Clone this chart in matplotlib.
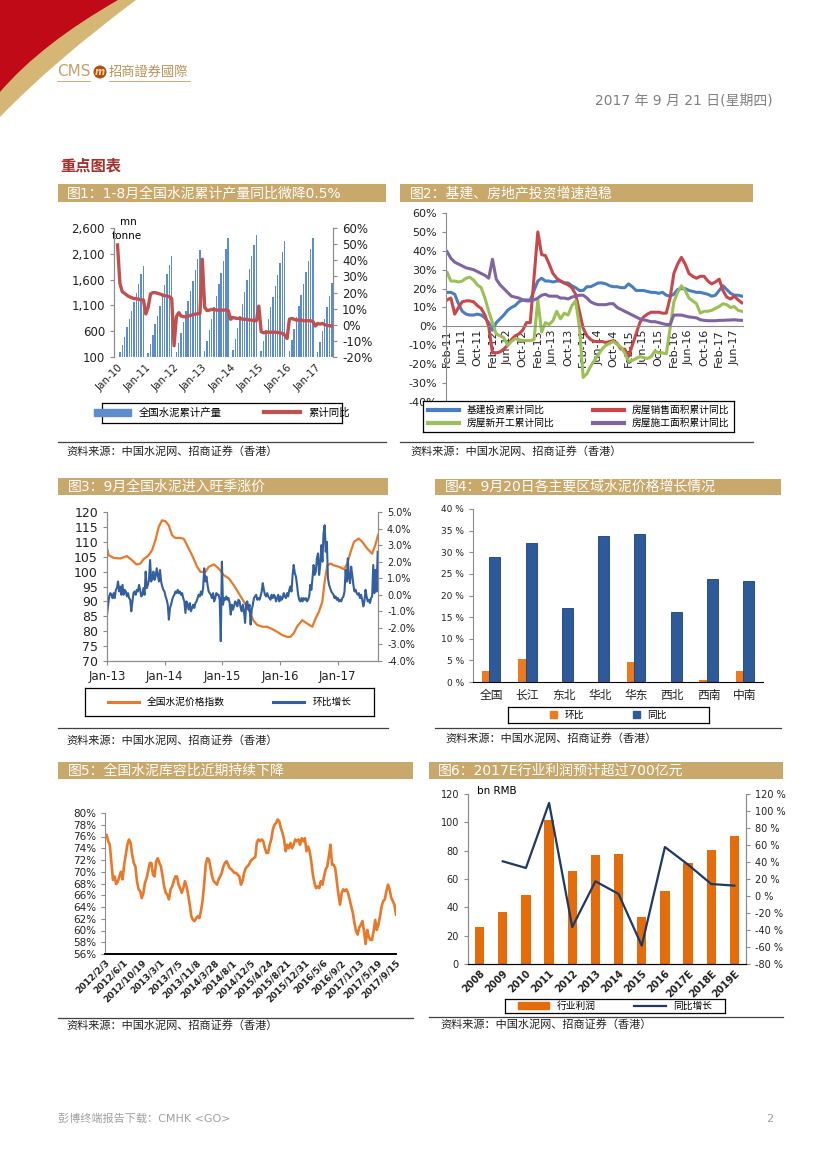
import numpy as np
import matplotlib
matplotlib.use('Agg')
import matplotlib.pyplot as plt
from matplotlib.patches import Rectangle, PathPatch, Circle, Patch
from matplotlib.path import Path
from matplotlib.lines import Line2D

plt.rcParams['font.family'] = ['DejaVu Sans', 'Noto Sans CJK SC']
plt.rcParams['axes.unicode_minus'] = False

# ---------------- data ----------------
# Fig 1: cumulative cement output (mn t) and cumulative yoy (%), Jan-10 .. Aug-17
prod = [0, 200, 335, 495, 675, 835, 1000, 1170, 1335, 1515, 1700, 1865,
        0, 185, 350, 525, 730, 895, 1090, 1280, 1505, 1700, 1880, 2060,
        0, 200, 380, 570, 775, 985, 1190, 1380, 1570, 1780, 1990, 2180,
        0, 220, 405, 620, 840, 1060, 1290, 1510, 1720, 1960, 2190, 2410,
        0, 230, 440, 660, 900, 1130, 1360, 1590, 1810, 2050, 2270, 2470,
        0, 210, 410, 620, 840, 1060, 1270, 1480, 1690, 1920, 2140, 2350,
        0, 220, 420, 640, 870, 1090, 1310, 1520, 1740, 1970, 2190, 2400,
        0, 200, 400, 600, 830, 1060, 1290, 1530]
prod_yoy = [49.5, 25.7, 20.5, 19.5, 18.3, 17.4, 16.8, 16.2, 16.2, 15.8, 15.4, 15.4,
            6.7, 10.8, 19.1, 19.9, 19.9, 19.5, 19.1, 18.5, 18.0, 17.8, 17.4, 16.2,
            -13.0, 5.0, 7.5, 5.4, 5.0, 5.0, 5.4, 5.8, 6.2, 6.6, 6.8, 7.0,
            40.6, 10.8, 8.8, 9.1, 9.5, 9.5, 9.1, 9.1, 9.1, 9.1, 9.1, 8.8,
            3.4, 4.5, 4.1, 3.9, 3.9, 3.5, 3.4, 3.4, 2.9, 2.9, 2.5, 2.5,
            11.6, -4.3, -5.0, -4.6, -4.6, -4.6, -4.6, -4.6, -4.8, -5.0, -5.3, -6.4,
            -8.5, 3.5, 3.9, 3.4, 2.9, 2.9, 2.9, 2.5, 2.5, 2.5, 2.5, 1.9,
            -0.8, 0.8, 0.4, 0.8, 0.0, -0.4, -0.6, -0.8]
years1 = ['Jan-10', 'Jan-11', 'Jan-12', 'Jan-13', 'Jan-14', 'Jan-15', 'Jan-16', 'Jan-17']

# Fig 2: investment growth, monthly Feb-11 .. Aug-17 (%)
infra = [18, 18, 17, 12, 8, 6.5, 6, 6, 6.5, 6, 4.5,
         2, -2, 2, 4, 6, 8.5, 10, 11, 13, 14, 14, 14,
         19, 24, 25.5, 24, 24, 23.5, 24, 24, 23, 23, 21.5, 20.5,
         19, 19, 21, 21, 22, 23, 23, 22.5, 21.5, 21, 21, 20.5,
         20.5, 22.5, 21, 19, 19, 19, 18.5, 18, 18, 17.5, 18, 16.5,
         16, 17, 19.5, 20, 20, 19, 18.5, 18, 18, 17.5, 17, 16,
         16.5, 19, 21.5, 19.5, 17.5, 16.5, 16.5, 16]
sales = [14, 15, 6.5, 10, 13, 13.5, 13.5, 13, 11, 9.5, 6,
         0, -14, -14, -13.5, -12, -10, -7, -5, -4, -2, 2, 2,
         26, 50, 38, 37.5, 33, 28, 25.5, 24, 23, 22, 20.5, 17,
         8, -1, -5, -7, -8, -8, -8, -8.5, -8, -7.5, -9, -12,
         -12, -16, -10, -4, 2, 5, 6.5, 7.5, 7.5, 7.5, 7, 7,
         15, 28, 33, 36.5, 33, 28, 26.5, 25.5, 26.5, 26.5, 24, 22.5,
         23.5, 25, 19, 15.5, 14.5, 16, 14, 12.5]
starts = [28.5, 24, 24, 23.5, 24, 25.5, 26, 24.5, 22, 20.5, 15,
          8, 2, -4, -5, -6, -10, -8, -6.5, -7, -7.5, -7.5, -7.5,
          -7, 14, -3, 2, 1, 3, 8, 4, 7, 6, 11, 13.5,
          0, -27, -25, -21, -18, -15, -12, -10, -9, -8, -9.5, -11,
          -14, -18.5, -18, -17, -16, -16.5, -17, -16, -13, -14, -14, -14.5,
          -1, 13, 18, 21.5, 19, 15, 13.5, 12, 7, 8, 8, 8.5,
          9.5, 10.5, 12, 11.5, 10, 10.5, 8.5, 8]
underway = [39.5, 36, 34, 33, 32, 31, 30.5, 30, 29, 28, 27,
            25.5, 35.5, 25, 22, 20, 18, 16, 15.5, 15, 14, 13.5, 13.5,
            14, 15, 16.5, 17, 16, 16, 16, 15, 15, 14.5, 15.5, 16,
            16.5, 16.5, 15, 13, 12, 11.5, 11.5, 11.5, 12, 12, 10, 9,
            8, 7, 6, 5, 4, 3.5, 3, 2.5, 2.5, 2, 1.5, 1,
            1, 6, 6, 6, 5.5, 5, 4.8, 4.5, 3.5, 3.2, 3, 3,
            3, 3.2, 3.2, 3.3, 3.4, 3.5, 3.3, 3.2]
months2 = ['Feb-11', 'Jun-11', 'Oct-11', 'Feb-12', 'Jun-12', 'Oct-12', 'Feb-13',
           'Jun-13', 'Oct-13', 'Feb-14', 'Jun-14', 'Oct-14', 'Feb-15', 'Jun-15',
           'Oct-15', 'Feb-16', 'Jun-16', 'Oct-16', 'Feb-17', 'Jun-17']

# Fig 3: price index (weeks since Jan-13) and weekly change (%)
idx_week = [0, 1.5, 6, 12, 18, 22.7, 26.6, 30.2, 33.2, 37.8, 40.8, 43.8, 46.8, 49.8,
            52.9, 55.9, 58.9, 61.9, 66.5, 69.5, 72.5, 77, 81.6, 84.6, 89.1, 92.1,
            96.7, 101.2, 105.7, 110.3, 114.8, 119.3, 123.9, 128.4, 132.3, 136,
            140.5, 145, 149.5, 154, 158.6, 163, 166, 169, 172, 176.7, 181, 185.8,
            188.8, 191.8, 194.9, 197, 199.4, 202.4, 205.4, 210, 214.5, 217.5,
            220.5, 223.6, 228, 231, 235.6, 240, 243, 245.3]
idx_val = [108, 105.5, 104.6, 104.4, 105.2, 103.8, 102.4, 102.7, 104.2, 105.5, 107.2,
           110.5, 115, 117.2, 116.9, 115.5, 112.2, 111.3, 111.3, 111, 108.8, 105.5,
           101.6, 99.9, 99.9, 101.6, 102.4, 101, 98.8, 97.7, 95.4, 92.7, 89.9, 87.1,
           83.7, 82.1, 81.5, 81.5, 80.7, 79.8, 78.7, 78.1, 78.1, 79.3, 81.5, 83.7,
           82.6, 81.5, 84.3, 86.5, 89.9, 96.6, 102.1, 102.7, 102.1, 101.6, 100.8,
           102.7, 106.6, 110, 111.1, 110, 107.7, 106, 109.1, 112.2]
wow = [-1.2, -0.6, -0.1, 0.1, 0.0, -0.2, 0.1, -0.2, 0.3, 0.4, 0.8, 0.2, 0.5, 0.0,
       0.6, 0.0, 0.3, 0.2, -0.1, 0.1, -0.2, -0.3, -1.0, -0.4, 0.1, 0.2, 0.0, 0.3,
       0.2, 0.6, 0.3, -0.1, 0.0, 0.4, 0.0, 1.4, 0.4, 0.6, 0.9, 2.1, 0.8, 1.0,
       1.4, 0.9, 1.1, 1.6, 1.2, 0.8, 1.5, 0.8, 0.5, 0.3,
       0.2, -0.1, -0.3, -0.6, -1.5, -0.8, -0.6, -0.3, -0.1, 0.0, 0.2, 0.1, 0.3, 0.1,
       0.2, 0.0, 0.1, -0.2, -0.4, -1.1, -0.4, -0.6, -0.9, -0.5, -1.0, -0.8, -0.6, -0.8,
       -0.5, -0.4, -0.2, 0.0, -0.1, 0.2, 0.0, 0.4, 1.6, 0.8, 1.1, 0.6, 0.2, 0.1,
       0.0, -0.2, 0.1, -0.4, -0.2, 0.1, 0.0, 0.0, -0.3, -2.8,
       2.0, -0.6, -0.2, -0.3, -0.1, -0.3, -0.2, -0.5, -1.2, -0.6, -0.9, -0.7, -0.4, -0.5,
       -0.7, -0.3, -0.4, -0.8, -1.0, -0.6, -1.0, -1.7, -0.5, -0.4, -0.9, -0.6, -1.8, -0.9,
       -0.6, -0.2, -0.1, 0.0, -0.3, -0.2, -0.3, -0.1, 0.2, 0.7, 0.3, 0.0, -0.1, 0.1,
       -0.1, -0.2, -0.3, 0.0, -0.2, 0.0, -0.1, -0.4, -0.2, 0.0,
       -0.4, -0.1, -0.3, -0.2, 0.1, -0.1, -0.2, 0.1, -0.1, 0.3, 0.5, 0.2, 1.2, 1.8,
       1.3, 1.1, 0.6, 0.0, -0.3, -0.4, -0.2, -0.4, -0.2, -0.3, -0.2, -0.4, -0.3, -0.1,
       0.6, 0.3, 1.0, 1.8, 1.2, 1.4, 2.2, 2.5, 1.2, 1.8, 3.0, 2.0, 3.7, 4.2,
       2.6, 3.2, 1.0, 0.6, 0.4, 0.2, 0.1, 0.0, -0.2, -0.1,
       -0.3, -0.2, -0.4, -0.3, -0.4, -0.2, -0.1, 0.2, 1.5, 0.8, 2.2, 1.0, 0.7, 1.7,
       1.2, 0.6, 0.2, 0.3, 0.1, 0.0, 0.1, -0.2, 0.0, -0.3, -0.7, -0.4, 0.3, -0.1,
       -0.4, -0.3, -0.5, -0.2, -0.1, 1.8, 0.1, 1.5, 0.2, 2.6]
jan_weeks3 = [0, 52.2, 104.3, 156.5, 208.7]
years3 = ['Jan-13', 'Jan-14', 'Jan-15', 'Jan-16', 'Jan-17']

# Fig 4: regional price growth (%)
regions = ['全国', '长江', '东北', '华北', '华东', '西北', '西南', '中南']
mom4 = [2.6, 5.3, 0, 0, 4.6, 0, 0.5, 2.6]
yoy4 = [28.9, 32.1, 17.0, 33.7, 34.2, 16.2, 23.9, 23.4]

# Fig 5: inventory ratio (%)
stock = [76.0, 76.3, 75.2, 74.6, 71.5, 68.6, 69.2, 67.9, 68.3, 69.2, 70.0, 68.7, 71.2,
         72.9, 74.6, 75.5, 74.9, 72.9, 71.5, 70.9, 68.4, 67.0, 66.7, 65.5, 66.4, 68.1,
         68.9, 70.1, 71.5, 71.5, 69.5, 69.2, 71.8, 72.3, 71.5, 70.9, 69.2, 67.5, 66.4,
         66.1, 65.3, 67.0, 67.5, 68.4, 69.2, 69.2, 67.8, 67.2, 66.4, 67.2, 68.4, 67.5,
         66.1, 64.4, 62.4, 61.8, 61.6, 62.1, 62.4, 62.1, 63.3, 65.0, 67.8, 71.2, 72.3,
         72.1, 70.6, 69.2, 68.4, 68.1, 67.8, 68.7, 69.2, 69.8, 70.9, 71.5, 71.8, 71.2,
         70.6, 70.4, 70.1, 69.8, 69.8, 69.5, 69.2, 67.8, 68.4, 69.8, 70.6, 70.9, 71.2,
         71.8, 72.1, 72.3, 72.5, 75.0, 75.5, 75.2, 75.5, 75.2, 74.0, 73.2, 73.2, 74.6,
         75.5, 77.2, 78.0, 78.3, 78.9, 78.6, 77.4, 76.6, 75.5, 73.5, 74.6, 74.0, 74.9,
         74.0, 74.6, 75.5, 75.2, 75.5, 74.6, 75.7, 75.2, 75.7, 73.5, 74.3, 73.5, 71.8,
         69.5, 68.1, 67.2, 67.5, 67.2, 68.4, 67.8, 69.2, 70.4, 70.9, 72.6, 74.6, 71.2,
         71.2, 70.6, 68.4, 66.1, 64.4, 66.4, 67.0, 66.7, 67.0, 66.4, 65.3, 64.1, 63.0,
         61.3, 59.9, 59.3, 60.5, 61.0, 61.6, 59.9, 57.7, 60.1, 58.9, 58.4, 58.4, 59.9,
         61.8, 60.1, 61.0, 62.4, 64.1, 65.0, 65.3, 66.7, 67.8, 67.0, 65.6, 65.0, 64.4,
         62.7]
dates5 = ['2012/2/3', '2012/6/1', '2012/10/19', '2013/3/1', '2013/7/5', '2013/11/8',
          '2014/3/28', '2014/8/1', '2014/12/5', '2015/4/24', '2015/8/21', '2015/12/31',
          '2016/5/6', '2016/9/2', '2017/1/13', '2017/5/19', '2017/9/15']

# Fig 6: industry profit (bn RMB) and yoy (%)
years6 = ['2008', '2009', '2010', '2011', '2012', '2013', '2014', '2015', '2016',
          '2017E', '2018E', '2019E']
profit = [26.1, 36.7, 48.7, 101.9, 65.9, 76.7, 77.9, 33.2, 51.8, 71.1, 80.7, 90.6]
profit_yoy = [np.nan, 40.8, 33, 109.4, -36.5, 17.3, 2.4, -58.4, 57.6, 36.9, 14.1, 12.2]

# ---------------- page ----------------
W, H = 827, 1169
GOLD = '#C8A86B'
GRAY = '#8C8C8C'
fig = plt.figure(figsize=(W / 100, H / 100), dpi=100)


def px_axes(x0, y0, x1, y1):
    return fig.add_axes([x0 / W, 1 - y1 / H, (x1 - x0) / W, (y1 - y0) / H])


bg = px_axes(0, 0, W, H)
bg.set_xlim(0, W)
bg.set_ylim(H, 0)
bg.axis('off')

# corner swoosh
cv = [Path.MOVETO, Path.LINETO, Path.CURVE3, Path.CURVE3, Path.CLOSEPOLY]
bg.add_patch(PathPatch(Path([(0, 0), (136, 0), (55, 60), (0, 117), (0, 0)], cv),
                       color='#D6B675', lw=0))
bg.add_patch(PathPatch(Path([(0, 0), (118, 0), (41, 44), (0, 92), (0, 0)], cv),
                       color='#C00A18', lw=0))

# logo
bg.text(57, 72, 'CMS', color='#C4A06A', fontsize=11, va='center', ha='left')
bg.plot([57, 90], [81, 81], color='#C4A06A', lw=0.6)
bg.add_patch(Circle((100, 72), 6.5, color='#B04E14', lw=0))
bg.text(100, 72, 'm', color='#F3D9A0', fontsize=7, fontstyle='italic',
        fontweight='bold', ha='center', va='center')
bg.text(109, 72, '招商證券國際', color='#B8935A', fontsize=9.5, va='center', ha='left')
bg.plot([109, 190], [81, 81], color='#C4A06A', lw=0.6)

bg.text(773, 100, '2017 年 9 月 21 日(星期四)', color='#808080', fontsize=10,
        ha='right', va='center')
bg.text(60, 166, '重点图表', color='#A3302B', fontsize=11, fontweight='bold',
        va='center')

bg.text(58, 1119, '彭博终端报告下载：CMHK <GO>', color='#A0A0A0', fontsize=8,
        va='center')
bg.text(773, 1119, '2', color='#A0A0A0', fontsize=8, va='center', ha='right')


def title_bar(x0, x1, y0, y1, text, tx):
    bg.add_patch(Rectangle((x0, y0), x1 - x0, y1 - y0, color=GOLD, lw=0))
    bg.text(tx, (y0 + y1) / 2, text, color='white', fontsize=10, va='center')


def source(x0, x1, yl, tx, ty):
    bg.plot([x0, x1], [yl, yl], color='#404040', lw=0.9)
    bg.text(tx, ty, '资料来源：中国水泥网、招商证券（香港）', fontsize=8,
            color='#222222', va='center')


def legend_box(rect, handles, labels, ncol, fs=7.5, **kw):
    lax = px_axes(*rect)
    lax.set_xticks([])
    lax.set_yticks([])
    lax.set_facecolor('white')
    for s in lax.spines.values():
        s.set_color('black')
        s.set_linewidth(0.9)
    lax.legend(handles, labels, loc='center', ncol=ncol, frameon=False,
               fontsize=fs, **kw)


def style(ax, sides=('left',), color=GRAY):
    for k, s in ax.spines.items():
        s.set_visible(k in sides)
        s.set_color(color)
    ax.tick_params(colors='#222222', which='both', length=3)
    ax.tick_params(axis='both', color=color)
    ax.set_facecolor('none')


title_bar(58, 386, 184, 202, '图1：1-8月全国水泥累计产量同比微降0.5%', 67)
title_bar(400, 753, 184, 202, '图2：基建、房地产投资增速趋稳', 410)
title_bar(58, 388, 478, 495, '图3：9月全国水泥进入旺季涨价', 68)
title_bar(435, 781, 479, 495, '图4：9月20日各主要区域水泥价格增长情况', 445)
title_bar(58, 413, 762, 779, '图5：全国水泥库容比近期持续下降', 68)
title_bar(429, 783, 762, 779, '图6：2017E行业利润预计超过700亿元', 438)

source(58, 386, 442, 66, 451)
source(400, 753, 442, 410, 451)
source(58, 388, 728, 66, 740)
source(435, 781, 728, 445, 738)
source(58, 413, 1018, 66, 1025)
source(429, 783, 1017, 440, 1024)

# ---------------- Fig 1 ----------------
ax1 = px_axes(114, 228, 333, 357)
m1 = np.arange(len(prod))
ax1.bar(m1, prod, width=0.62, color='#5B8DD0', lw=0)
ax1.set_ylim(100, 2600)
ax1.set_xlim(-1.5, 91.5)
ax1.set_yticks([100, 600, 1100, 1600, 2100, 2600])
ax1.set_yticklabels([f'{v:,}' for v in [100, 600, 1100, 1600, 2100, 2600]], fontsize=8.5)
ax1.set_xticks(np.arange(0, 92, 12))
ax1.set_xticklabels(years1, rotation=45, ha='right', rotation_mode='anchor', fontsize=7.5)
style(ax1, ('left', 'right'))
ax1.tick_params(axis='x', length=0, pad=4)
ax1b = ax1.twinx()
ax1b.plot(m1, prod_yoy, color='#C0504D', lw=2.4)
ax1b.set_ylim(-20, 60)
ax1b.set_yticks(range(-20, 61, 10))
ax1b.set_yticklabels([f'{v}%' for v in range(-20, 61, 10)], fontsize=8.5)
style(ax1b, ('left', 'right'))
bg.text(128, 222, 'mn', fontsize=7.5, ha='center', va='center')
bg.text(127, 236, 'tonne', fontsize=7.5, ha='center', va='center')
legend_box((102, 403, 342, 423),
           [Patch(color='#5B8DD0'), Line2D([], [], color='#C0504D', lw=3)],
           ['全国水泥累计产量', '累计同比'], 2, fs=7.5, handlelength=3.5,
           columnspacing=4)

# ---------------- Fig 2 ----------------
ax2 = px_axes(446, 213, 743, 402)
style(ax2, ('left', 'bottom'))
ax2.spines['bottom'].set_position(('data', 0))
m2 = np.arange(len(infra))
c_inf, c_sal, c_sta, c_und = '#4A7EC2', '#C9474A', '#9BC156', '#8064A2'
ax2.plot(m2, infra, color=c_inf, lw=2.2)
ax2.plot(m2, sales, color=c_sal, lw=2.2)
ax2.plot(m2, starts, color=c_sta, lw=2.2)
ax2.plot(m2, underway, color=c_und, lw=2.2)
ax2.set_ylim(-40, 60)
ax2.set_xlim(-0.3, 78.3)
ax2.set_yticks(range(-40, 61, 10))
ax2.set_yticklabels([f'{v}%' for v in range(-40, 61, 10)], fontsize=8)
ax2.set_xticks(np.arange(0, 79, 4))
ax2.set_xticklabels(months2, rotation=90, fontsize=8)
ax2.tick_params(axis='x', length=0, pad=2)
ax2.tick_params(axis='y', colors='#222222', color=GRAY, length=3)
legend_box((423, 401, 734, 432),
           [Line2D([], [], color=c, lw=3) for c in (c_inf, c_sta, c_sal, c_und)],
           ['基建投资累计同比', '房屋新开工累计同比', '房屋销售面积累计同比',
            '房屋施工面积累计同比'], 2, fs=7, handlelength=3.2, columnspacing=4,
           labelspacing=0.3)

# ---------------- Fig 3 ----------------
ax3 = px_axes(107, 512, 378, 661)
ax3.plot(idx_week, idx_val, color='#E8782A', lw=1.6)
ax3.set_ylim(70, 120)
ax3.set_xlim(0, 245.3)
ax3.set_yticks(range(70, 121, 5))
ax3.set_yticklabels([str(v) for v in range(70, 121, 5)], fontsize=9)
ax3.set_xticks(jan_weeks3)
ax3.set_xticklabels(years3, fontsize=8.5)
style(ax3, ('left', 'right', 'bottom'))
ax3b = ax3.twinx()
ax3b.plot(np.arange(len(wow)), wow, color='#335F9E', lw=1.5)
ax3b.set_ylim(-4, 5)
ax3b.set_yticks(range(-4, 6))
ax3b.set_yticklabels([f'{v:.1f}%' for v in range(-4, 6)], fontsize=7)
style(ax3b, ('left', 'right', 'bottom'))
legend_box((85, 688, 374, 716),
           [Line2D([], [], color='#E8782A', lw=2.2), Line2D([], [], color='#335F9E', lw=2.2)],
           ['全国水泥价格指数', '环比增长'], 2, fs=7, handlelength=3.2, columnspacing=5)

# ---------------- Fig 4 ----------------
ax4 = px_axes(473, 509, 763, 682)
x4 = np.arange(len(regions))
ax4.bar(x4 - 0.105, mom4, width=0.3, color='#EE7A1E', lw=0)
ax4.bar(x4 + 0.105, yoy4, width=0.3, color='#2D5A99', edgecolor='#1E3F72', lw=0.6)
ax4.set_ylim(0, 40)
ax4.set_xlim(-0.5, 7.5)
ax4.set_yticks(range(0, 41, 5))
ax4.set_yticklabels([f'{v} %' for v in range(0, 41, 5)], fontsize=6.5)
ax4.set_xticks(x4)
ax4.set_xticklabels(regions, fontsize=8.5)
style(ax4, ('left', 'bottom'))
ax4.spines['bottom'].set_color('black')
ax4.tick_params(axis='x', length=0, pad=5)
legend_box((508, 707, 709, 723),
           [Patch(color='#EE7A1E'), Patch(color='#2D5A99')],
           ['环比', '同比'], 2, fs=7, handlelength=0.7, handleheight=0.7,
           columnspacing=5)

# ---------------- Fig 5 ----------------
ax5 = px_axes(105, 813, 396, 954)
x5 = np.linspace(0, len(dates5) - 1, len(stock))
ax5.plot(x5, stock, color='#E8782A', lw=1.9)
ax5.set_ylim(56, 80)
ax5.set_xlim(0, len(dates5) - 1)
ax5.set_yticks(range(56, 81, 2))
ax5.set_yticklabels([f'{v}%' for v in range(56, 81, 2)], fontsize=7.5)
ax5.set_xticks(np.arange(len(dates5)))
ax5.set_xticklabels(dates5, rotation=45, ha='right', rotation_mode='anchor',
                    fontsize=6.5, fontweight='bold')
style(ax5, ('left', 'bottom'))
ax5.spines['bottom'].set_color('black')
ax5.spines['bottom'].set_linewidth(1.4)
ax5.tick_params(axis='x', length=0, pad=3)

# ---------------- Fig 6 ----------------
ax6 = px_axes(468, 794, 746, 964)
x6 = np.arange(len(years6))
ax6.bar(x6, profit, width=0.4, color='#E46C0A', lw=0)
ax6.set_ylim(0, 120)
ax6.set_xlim(-0.5, 11.5)
ax6.set_yticks(range(0, 121, 20))
ax6.set_yticklabels([str(v) for v in range(0, 121, 20)], fontsize=7)
ax6.set_xticks(x6)
ax6.set_xticklabels(years6, rotation=45, ha='right', rotation_mode='anchor',
                    fontsize=7, fontweight='bold')
style(ax6, ('left', 'right', 'bottom'))
ax6.spines['bottom'].set_color('black')
ax6.tick_params(axis='x', length=0, pad=3)
ax6b = ax6.twinx()
ax6b.plot(x6, profit_yoy, color='#1F3864', lw=1.6)
ax6b.set_ylim(-80, 120)
ax6b.set_yticks(range(-80, 121, 20))
ax6b.set_yticklabels([f'{v} %' for v in range(-80, 121, 20)], fontsize=7)
style(ax6b, ('left', 'right', 'bottom'))
ax6b.spines['bottom'].set_color('black')
bg.text(477, 791, 'bn RMB', fontsize=7.5, va='center')
legend_box((505, 999, 725, 1013),
           [Patch(color='#E46C0A'), Line2D([], [], color='#1F3864', lw=1.6)],
           ['行业利润', '同比增长'], 2, fs=7, handlelength=3.2, handleheight=0.6,
           columnspacing=4)

fig.savefig('out.png', dpi=100)
